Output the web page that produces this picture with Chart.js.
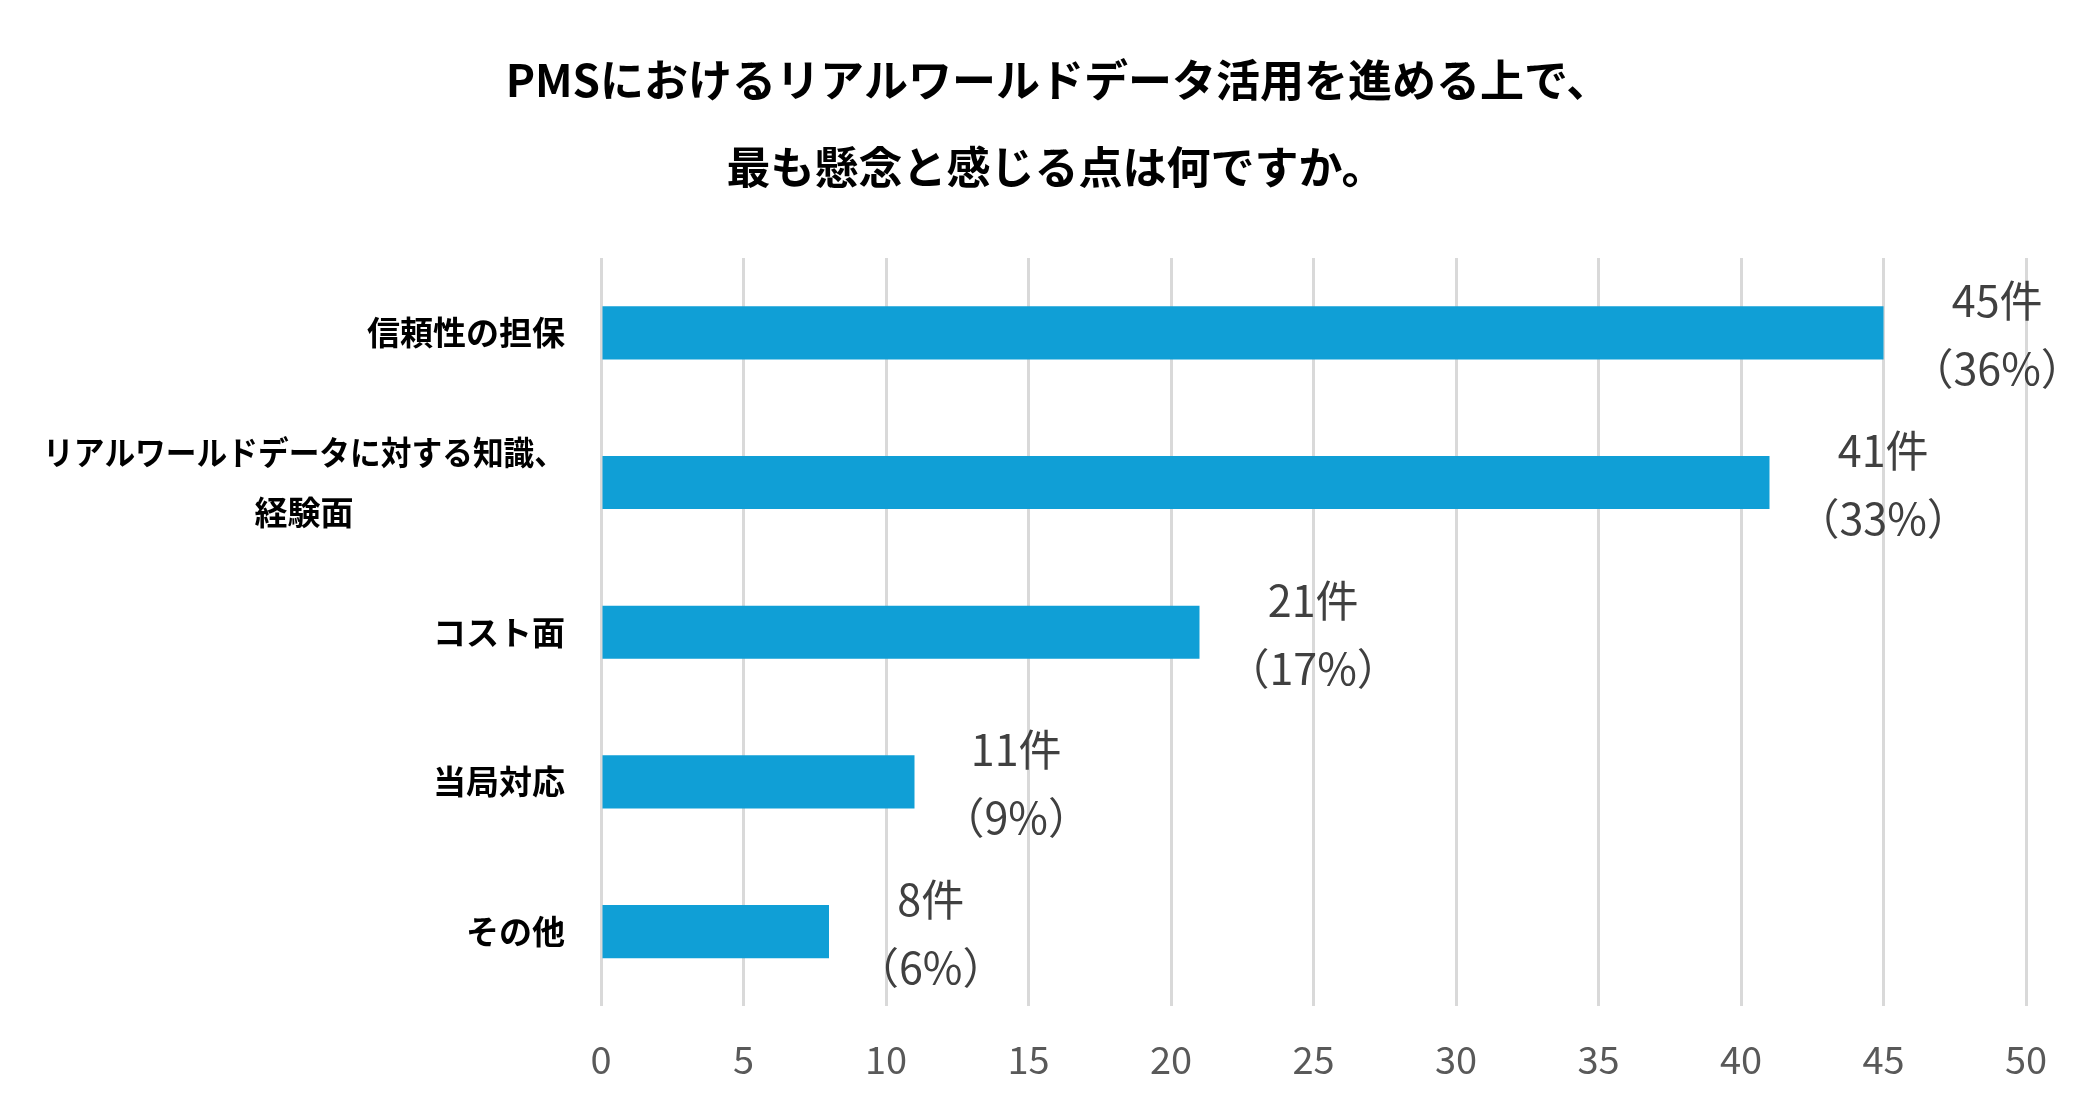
<!DOCTYPE html>
<html>
<head>
<meta charset="utf-8">
<script src="https://cdn.jsdelivr.net/npm/chart.js@4/dist/chart.umd.min.js"></script>
<style>
    html, body { margin: 0; padding: 0; background: #ffffff; }
    #container { width: 2100px; height: 1118px; }
</style>
</head>
<body>
<div id="container"><canvas id="rwdChart" width="2100" height="1118"></canvas></div>
<script>
const titleLines = ["PMSにおけるリアルワールドデータ活用を進める上で、", "最も懸念と感じる点は何ですか。"]
const categories = [["信頼性の担保"], ["リアルワールドデータに対する知識、", "経験面"], ["コスト面"], ["当局対応"], ["その他"]]
const counts = [45, 41, 21, 11, 8]
const percents = [36, 33, 17, 9, 6]
const xMax = 50
const xStep = 5

const jpFont = "'Noto Sans CJK JP', 'Noto Sans', sans-serif"

// title drawn over the whole canvas width (layout padding would shift the built-in one)
const titlePlugin = {
    id: "centeredTitle",
    afterDraw: (chart) => {
        const ctx = chart.ctx
        ctx.save()
        ctx.font = "bold 44px " + jpFont
        ctx.fillStyle = "#000000"
        ctx.textAlign = "center"
        ctx.textBaseline = "middle"
        ctx.fillText(titleLines[0], chart.width / 2 + 8, 80)
        ctx.fillText(titleLines[1], chart.width / 2 + 6, 167)
        ctx.restore()
    }
}

// category labels: lines centered on each other, block right aligned next to the plot
const categoryLabelPlugin = {
    id: "categoryLabels",
    afterDraw: (chart) => {
        const ctx = chart.ctx
        const yScale = chart.scales.y
        const rightEdge = chart.chartArea.left - 36
        const lineGap = 60
        const maxLineW = 522

        ctx.save()
        ctx.font = "bold 33px " + jpFont
        ctx.fillStyle = "#000000"
        ctx.textAlign = "center"
        ctx.textBaseline = "middle"

        for (let i = 0; i < categories.length; i++) {
            const lines = categories[i]
            const maxW = Math.min(maxLineW, Math.max(...lines.map((t) => ctx.measureText(t).width)))
            const cx = rightEdge - maxW / 2
            const cy = yScale.getPixelForValue(i)
            const startY = cy - (lines.length - 1) * lineGap / 2
            lines.forEach((t, j) => {
                ctx.fillText(t, cx, startY + j * lineGap, maxLineW)
            })
        }
        ctx.restore()
    }
}

// value labels: "n件" and "（p%）" beside each bar
const valueLabelPlugin = {
    id: "valueLabels",
    afterDatasetsDraw: (chart) => {
        const ctx = chart.ctx
        const meta = chart.getDatasetMeta(0)

        ctx.save()
        ctx.font = "43px " + jpFont
        ctx.fillStyle = "#404040"
        ctx.textAlign = "center"
        ctx.textBaseline = "middle"

        meta.data.forEach((bar, i) => {
            const lines = [counts[i] + "件", "（" + percents[i] + "%）"]
            const inkW = Math.max(...lines.map((t) => {
                const m = ctx.measureText(t)
                return m.actualBoundingBoxLeft + m.actualBoundingBoxRight
            }))
            const cx = bar.x + 56 + inkW / 2
            ctx.fillText(lines[0], cx, bar.y - 32)
            ctx.fillText(lines[1], cx, bar.y + 36)
        })
        ctx.restore()
    }
}

const rwdChartCtx = document.getElementById("rwdChart").getContext("2d")

const config = {
    type: "bar",
    data: {
        labels: categories,
        datasets: [{
            label: "件数",
            data: counts,
            backgroundColor: "#109FD6",
            categoryPercentage: 1,
            barPercentage: 0.355
        }]
    },
    options: {
        indexAxis: "y",
        responsive: false,
        animation: false,
        layout: {
            padding: { left: 0, right: 74, top: 258, bottom: 6 }
        },
        scales: {
            x: {
                min: 0,
                max: xMax,
                ticks: {
                    stepSize: xStep,
                    color: "#595959",
                    padding: 30,
                    font: { family: jpFont, size: 38 }
                },
                grid: {
                    color: "#d9d9d9",
                    lineWidth: 3,
                    drawTicks: false
                },
                border: { display: false }
            },
            y: {
                ticks: { display: false },
                grid: { display: false },
                border: { display: false },
                afterFit: (scale) => { scale.width = 601 }
            }
        },
        plugins: {
            legend: { display: false },
            tooltip: { enabled: false },
            title: { display: false }
        }
    },
    plugins: [titlePlugin, categoryLabelPlugin, valueLabelPlugin]
}

new Chart(rwdChartCtx, config)
</script>
</body>
</html>
